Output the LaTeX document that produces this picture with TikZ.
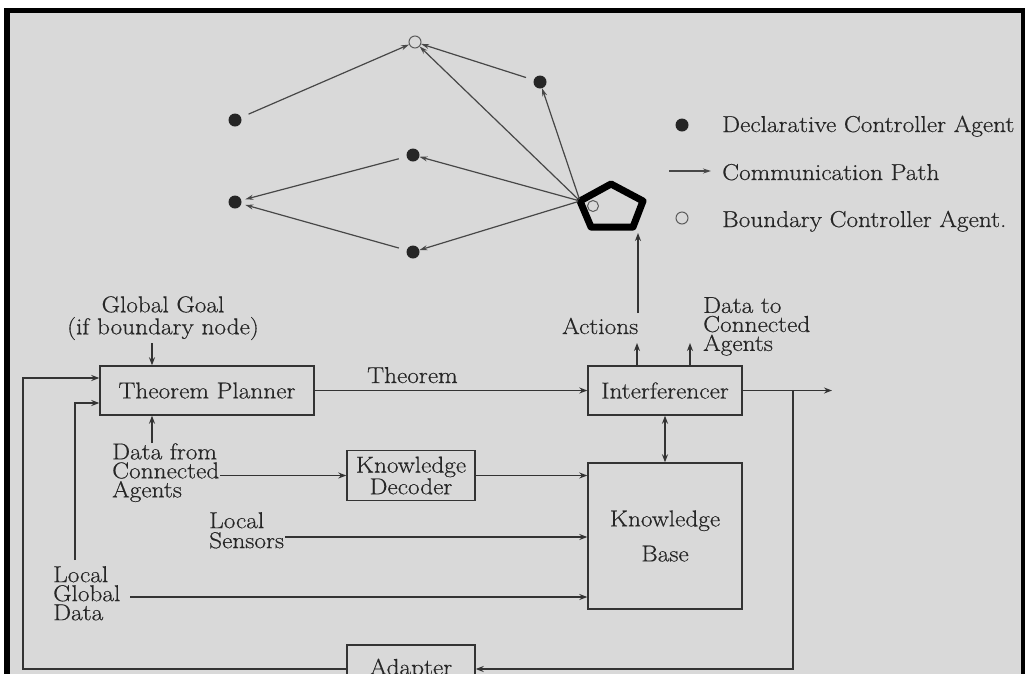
\documentclass[tikz,border=0pt]{standalone}
\usepackage{fontspec}
\setmainfont{Latin Modern Roman}[FakeStretch=1.1, FakeBold=0.5]
\usetikzlibrary{arrows.meta}
\definecolor{bg}{HTML}{D9D9D9}
\definecolor{ink}{HTML}{262626}
\definecolor{ln}{HTML}{333333}
\begin{document}
\begin{tikzpicture}[x=1pt,y=-1pt,
  font=\fontsize{23}{20}\selectfont, text=ink,
  box/.style={draw=ln, line width=1.4pt, inner sep=0pt, align=center},
  lbl/.style={inner sep=0pt, align=left},
  arr/.style={draw=ln, line width=1.4pt, -{Stealth[length=8pt,width=6pt]}},
  dbl/.style={draw=ln, line width=1.4pt, {Stealth[length=8pt,width=6pt]}-{Stealth[length=8pt,width=6pt]}},
  net/.style={draw=ln!90, line width=1.2pt, -{Stealth[length=8pt,width=5pt]}},
  dot/.style={circle, fill=ink, minimum size=13pt, inner sep=0pt},
  bdot/.style={circle, draw=ln!80, line width=1pt, minimum size=12pt, inner sep=0pt},
  pent/.style={draw=black, line width=7pt, line join=round}
]
\useasboundingbox (0,0) rectangle (1025,673);
\clip (0,0) rectangle (1025,673);
% frame
\fill[white] (0,0) rectangle (1025,673);
\fill[black] (4,8) rectangle (1025,690);
\fill[bg] (10,13) rectangle (1021,690);

% ---------- network ----------
\node[bdot] (b0) at (415,42) {};
\node[dot] (n1) at (540,82) {};
\node[dot] (n2) at (235,120) {};
\node[dot] (n3) at (413,155) {};
\node[dot] (n4) at (235,202) {};
\node[dot] (n5) at (413,252) {};
\coordinate (p1) at (611,184);
\coordinate (p2) at (643,201);
\coordinate (p3) at (633,227);
\coordinate (p4) at (591,227);
\coordinate (pv) at (580,201);
\draw[pent] (p1) -- (p2) -- (p3) -- (p4) -- (pv) -- cycle;
\node[bdot, minimum size=11pt] (b1) at (593,206) {};

\draw[net, shorten <=2pt] (pv) -- (b0);
\draw[net, shorten <=2pt] (pv) -- (n1);
\draw[net, shorten <=2pt] (pv) -- (n3);
\draw[net, shorten <=2pt] (pv) -- (n5);
\draw[net, shorten <=8pt] (n2) -- (b0);
\draw[net, shorten <=8pt] (n1) -- (b0);
\draw[net, shorten <=8pt, shorten >=4pt] (n3) -- (n4);
\draw[net, shorten <=8pt, shorten >=4pt] (n5) -- (n4);

% ---------- legend ----------
\node[dot] (lg1) at (682,125) {};
\node[lbl, anchor=base west] (lt1) at (722,132) {Declarative Controller Agent};
\coordinate (la0) at (669,171);
\coordinate (la1) at (711,171);
\draw[net] (la0) -- (la1);
\node[lbl, anchor=base west] (lt2) at (722,180) {Communication Path};
\node[bdot] (lg3) at (682,218) {};
\node[lbl, anchor=base west] (lt3) at (722,227) {Boundary Controller Agent.};

% ---------- block diagram ----------
\node[box, minimum width=214pt, minimum height=49pt] (tp) at (207,390.5) {Theorem Planner};
\node[box, minimum width=154pt, minimum height=49pt] (if) at (665,390.5) {Interferencer};
\node[box, minimum width=128pt, minimum height=50pt] (kd) at (411,475.5) {Knowledge\\Decoder};
\node[box, minimum width=154pt, minimum height=146pt, font=\fontsize{23}{35}\selectfont] (kb) at (665,536) {Knowledge\\Base};
\node[box, minimum width=128pt, minimum height=48pt] (ad) at (411,669) {Adapter};

% labels
\node[lbl, anchor=north, align=center, font=\fontsize{23}{22}\selectfont] (gg) at (163,296) {Global Goal\\(if boundary node)};
\node[lbl, anchor=north west, font=\fontsize{23}{19}\selectfont] (dfc) at (112,443) {Data from\\Connected\\Agents};
\node[lbl, anchor=north west] (ls) at (209,512) {Local\\Sensors};
\node[lbl, anchor=north west, font=\fontsize{23}{19}\selectfont] (lgd) at (53,566) {Local\\Global\\Data};
\node[lbl, anchor=base west] (act) at (562,334) {Actions};
\node[lbl, anchor=north west, font=\fontsize{23}{19}\selectfont] (dtc) at (703,297) {Data to\\Connected\\Agents};
\node[lbl, anchor=base west] (thm) at (367,383) {Theorem};

% connectors
\draw[arr] (tp) -- (if);
\coordinate (g1) at (152,343);
\draw[arr] (g1) -- (g1 |- tp.north);
\coordinate (d1) at (152,443);
\draw[arr] (d1) -- (d1 |- tp.south);
\coordinate (dfo) at (220,475.5);
\draw[arr] (dfo) -- (kd.west);
\draw[arr] (kd.east) -- (kd.east -| kb.west);
\coordinate (lso) at (285,537);
\draw[arr] (lso) -- (lso -| kb.west);
\coordinate (lgo) at (130,597);
\draw[arr] (lgo) -- (lgo -| kb.west);
\draw[dbl] (if.south) -- (kb.north);
\coordinate (ac) at (637,366);
\coordinate (ac2) at (637,343);
\draw[arr] (ac) -- (ac2);
\coordinate (dc) at (690,366);
\coordinate (dc2) at (690,343);
\draw[arr] (dc) -- (dc2);
\coordinate (up0) at (638,313);
\coordinate (up1) at (638,233);
\draw[arr] (up0) -- (up1);
\coordinate (out) at (832,390.5);
\draw[arr] (if.east) -- (out);
\coordinate (fb) at (793,390.5);
\draw[arr] (fb) |- (ad.east);
\coordinate (c1) at (23,669);
\coordinate (c2) at (23,378);
\draw[arr] (ad.west) -- (c1) -- (c2) -- (c2 -| tp.west);
\coordinate (c3) at (75,560);
\coordinate (c4) at (75,403);
\draw[arr] (c3) -- (c4) -- (c4 -| tp.west);
\end{tikzpicture}
\end{document}
